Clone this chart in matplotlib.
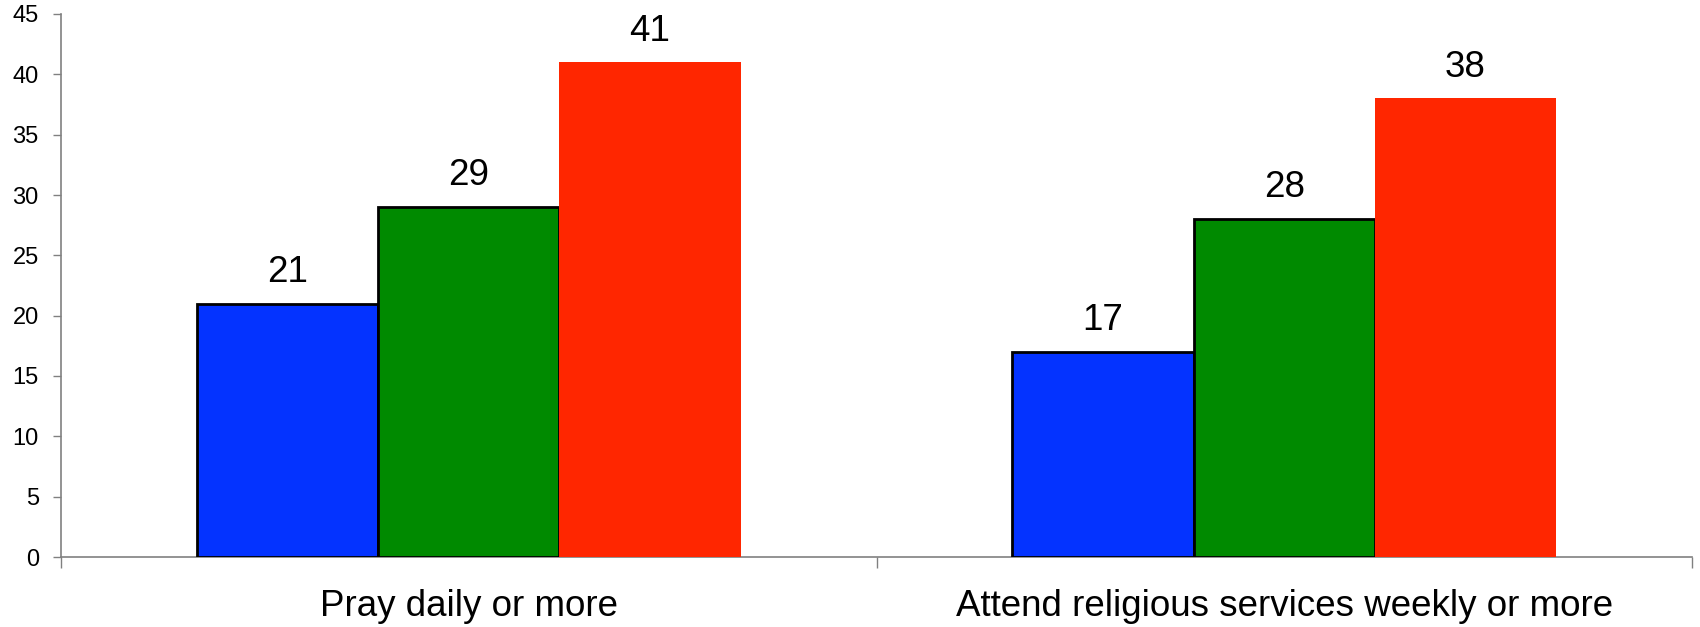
import numpy as np
import matplotlib.pyplot as plt

plt.rcParams['font.family'] = ['Liberation Sans', 'DejaVu Sans']

CATEGORIES = ["Pray daily or more", "Attend religious services weekly or more"]
SERIES_A = [21, 17]
SERIES_B = [29, 28]
SERIES_C = [41, 38]
Y_TICKS = list(range(0, 46, 5))

COLORS = ["#0433FF", "#008A00", "#FF2600"]


def main():
    fig = plt.figure(figsize=(17, 6.27), dpi=100)
    ax = fig.add_axes([61 / 1700, 70 / 627, 1631 / 1700, 543 / 627])

    x = np.arange(len(CATEGORIES))
    w = 2 / 9
    offsets = [-w, 0, w]
    series = [SERIES_A, SERIES_B, SERIES_C]
    for vals, off, col in zip(series, offsets, COLORS):
        edge = "black" if col != COLORS[2] else col
        lw = 2 if col != COLORS[2] else 0
        bars = ax.bar(x + off, vals, w, color=col, edgecolor=edge, linewidth=lw, zorder=3)
        for b, v in zip(bars, vals):
            ax.text(b.get_x() + b.get_width() / 2, v + 1.8, str(v),
                    ha="center", va="baseline", fontsize=26.5)

    ax.set_xlim(-0.5, len(CATEGORIES) - 0.5)
    ax.set_ylim(0, 45)
    ax.set_yticks(Y_TICKS)
    ax.tick_params(axis="y", labelsize=17, length=6, width=1, color="#808080", direction="out", pad=10)

    # category ticks sit on group boundaries
    ax.set_xticks([-0.5, 0.5, 1.5])
    ax.set_xticklabels([])
    ax.tick_params(axis="x", length=8, width=1, color="#808080", direction="out")
    for xi, lab in zip(x, CATEGORIES):
        ax.text(xi, -4.9, lab, ha="center", va="baseline", fontsize=26.5)

    for s in ["top", "right"]:
        ax.spines[s].set_visible(False)
    for s in ["left", "bottom"]:
        ax.spines[s].set_color("#808080")
        ax.spines[s].set_linewidth(1.2)

    fig.savefig("out.png", dpi=100)


if __name__ == "__main__":
    main()
